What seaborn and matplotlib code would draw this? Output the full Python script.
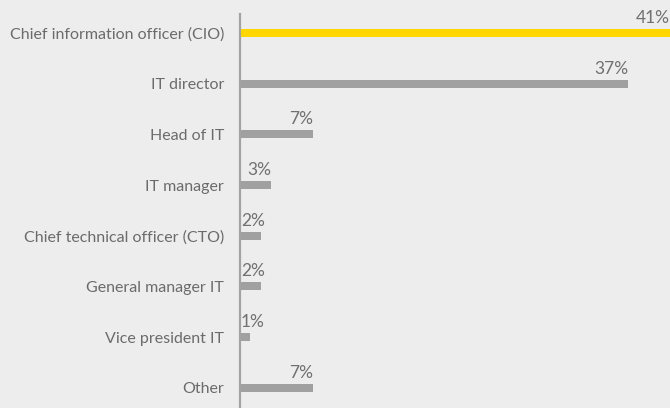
import matplotlib
matplotlib.use("Agg")
import matplotlib.pyplot as plt
import seaborn as sns
import pandas as pd

roles = [
    "Chief information officer (CIO)",
    "IT director",
    "Head of IT",
    "IT manager",
    "Chief technical officer (CTO)",
    "General manager IT",
    "Vice president IT",
    "Other",
]
shares = [41, 37, 7, 3, 2, 2, 1, 7]

BG = "#ededed"
YELLOW = "#ffd700"
GREY_BAR = "#a0a0a0"
TEXT = "#6b6b6b"

sns.set_theme(style="white")
plt.rcParams["font.family"] = ["Lato", "DejaVu Sans"]

df = pd.DataFrame({"role": roles, "share": shares})
palette = [YELLOW] + [GREY_BAR] * (len(roles) - 1)

fig = plt.figure(figsize=(6.7, 4.08), dpi=100, facecolor=BG)
ax = fig.add_axes([239.5 / 670, 0, (670 - 239.5) / 670, (408 - 14) / 408])
ax.set_facecolor(BG)

bar_h = 0.16
sns.barplot(data=df, y="role", x="share", hue="role", palette=palette,
            legend=False, orient="h", width=bar_h, ax=ax, saturation=1,
            linewidth=0, edgecolor="none")

ax.set_xlim(0, 41)
ax.set_ylim(7.4, -0.375)

for spine in ("top", "right", "bottom"):
    ax.spines[spine].set_visible(False)
ax.spines["left"].set_color("#a3a3a3")
ax.spines["left"].set_linewidth(1.6)
ax.spines["left"].set_zorder(5)

ax.set_xticks([])
ax.set_xlabel("")
ax.set_ylabel("")
ax.tick_params(axis="y", length=0, pad=11, labelsize=11.5, labelcolor=TEXT)

for i, v in enumerate(shares):
    if v <= 2:
        x, ha = 0.15, "left"
    else:
        x, ha = v, "right"
    ax.text(x, i - bar_h / 2 - 0.06, f"{v}%", ha=ha, va="bottom",
            fontsize=12.5, color="#707070", clip_on=False)

fig.savefig("out.png", dpi=100, facecolor=BG)
